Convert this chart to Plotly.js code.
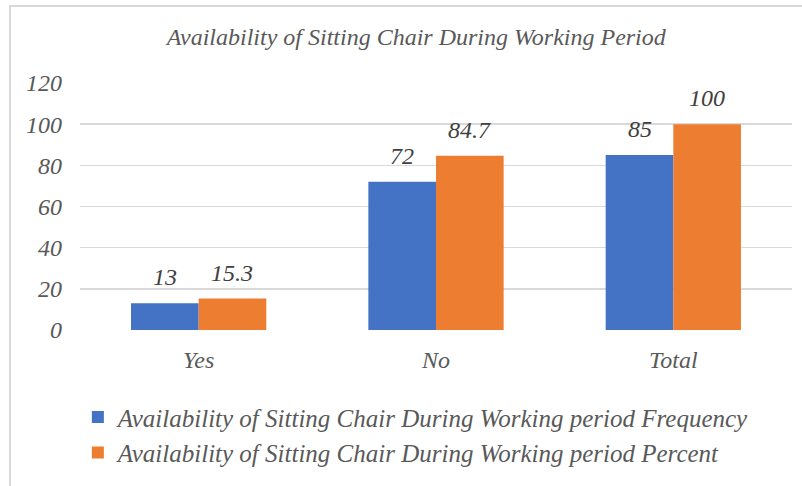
<!DOCTYPE html>
<html>
<head>
<meta charset="utf-8">
<script src="https://cdn.plot.ly/plotly-3.0.1.min.js"></script>
<style>
  html, body { margin: 0; padding: 0; background: #fff; }
  #wrap { position: relative; width: 802px; height: 486px; }
  #frame { position: absolute; left: 9px; top: 5px; width: 793px; height: 481px;
           border-top: 2px solid #d9d9d9; border-left: 2px solid #d9d9d9; box-sizing: border-box; }
  #chart { position: absolute; left: 0; top: 0; width: 802px; height: 486px; }
</style>
</head>
<body>
<div id="wrap">
  <div id="frame"></div>
  <div id="chart"></div>
</div>
<script>
const categories = ["Yes", "No", "Total"];
const frequency = [13, 72, 85];
const percent = [15.3, 84.7, 100];
const seriesNames = [
  "Availability of Sitting Chair During Working period Frequency",
  "Availability of Sitting Chair During Working period Percent"
];
const yTicks = [0, 20, 40, 60, 80, 100, 120];
const chartTitle = "Availability of Sitting Chair During Working Period";

const FONT = "Liberation Serif, Times New Roman, serif";
const BARGAP = 0.43;
const labelFont = { family: FONT, size: 24, color: "#404040", style: "italic" };

const traces = [
  { type: "bar", x: categories, y: frequency, name: seriesNames[0],
    marker: { color: "#4472C4" }, hoverinfo: "y", legendgroup: "a" },
  { type: "bar", x: categories, y: percent, name: seriesNames[1],
    marker: { color: "#ED7D31" }, hoverinfo: "y", legendgroup: "b" }
];

// data labels built from the arrays, above each bar of the group
const half = (1 - BARGAP) / 4;
const annotations = [];
[frequency, percent].forEach((vals, s) => {
  vals.forEach((v, i) => {
    annotations.push({ x: i + (s === 0 ? -half : half), y: v, xref: "x", yref: "y",
      text: String(v), showarrow: false, yanchor: "bottom", yshift: 11, font: labelFont });
  });
});

const layout = {
  width: 802, height: 486,
  margin: { l: 80, r: 10, t: 83, b: 156 },
  paper_bgcolor: "rgba(0,0,0,0)",
  plot_bgcolor: "rgba(0,0,0,0)",
  font: { family: FONT, color: "#595959", size: 24, style: "italic" },
  title: { text: chartTitle, x: 0.519, xanchor: "center", y: 0.925, yanchor: "middle",
           font: { family: FONT, size: 24, color: "#595959", style: "italic" } },
  barmode: "group",
  bargap: BARGAP,
  bargroupgap: 0,
  annotations: annotations,
  xaxis: { type: "category", showgrid: false, showline: false, zeroline: false,
           ticks: "", ticklabelstandoff: 13,
           tickfont: { family: FONT, size: 24, color: "#595959", style: "italic" } },
  yaxis: { range: [0, 120], tickvals: yTicks, ticktext: yTicks.map(String),
           showgrid: true, gridcolor: "#d9d9d9", gridwidth: 1.5, zeroline: false,
           showline: false, ticks: "", ticklabelstandoff: 17,
           tickfont: { family: FONT, size: 24, color: "#595959", style: "italic" } },
  showlegend: true,
  legend: { orientation: "v", x: -0.003, xanchor: "left", y: -0.26, yanchor: "top",
            traceorder: "normal", tracegroupgap: 10,
            font: { family: FONT, size: 25, color: "#595959", style: "italic" },
            bgcolor: "rgba(0,0,0,0)" }
};

Plotly.newPlot("chart", traces, layout, { displayModeBar: false, staticPlot: true });
</script>
</body>
</html>
